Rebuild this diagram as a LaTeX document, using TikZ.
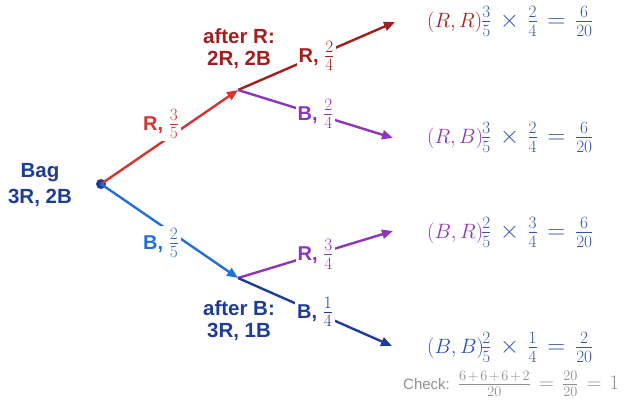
\documentclass[tikz,border=0pt]{standalone}
\usepackage{fontspec}
\setsansfont{Liberation Sans}
\usetikzlibrary{arrows.meta}
\definecolor{cR}{HTML}{D63333}
\definecolor{cDR}{HTML}{A11F1F}
\definecolor{cP}{HTML}{8E35B9}
\definecolor{cB}{HTML}{2470D6}
\definecolor{cDB}{HTML}{1F3C96}
\definecolor{cProd}{HTML}{3A55A5}
\definecolor{cBB}{HTML}{2D50B4}
\definecolor{cGray}{HTML}{8C8F96}
\tikzset{
  lbl/.style={font=\sffamily\bfseries\fontsize{20}{23}\selectfont, fill=white, inner sep=2pt},
  tree/.style={line width=2.4pt, -{Triangle[length=11pt,width=9pt]}},
  info/.style={font=\sffamily\bfseries\fontsize{20.5}{22}\selectfont, align=center},
  outc/.style={font=\fontsize{22}{26}\selectfont, anchor=base west, inner sep=0pt},
  prod/.style={font=\fontsize{24}{28}\selectfont, anchor=base west, inner sep=0pt, text=cProd},
}
\newcommand{\fr}[2]{{\fontsize{24}{28}\selectfont$\frac{#1}{#2}$}}
\newcommand{\tms}{\mkern2mu\times\mkern2mu}
\newcommand{\eqs}{\mkern2mu=\mkern2mu}
\newcommand{\plc}{\mkern2mu+\mkern2mu}
\begin{document}
\begin{tikzpicture}[x=1pt,y=-1pt]
\useasboundingbox (0,0) rectangle (626,400);
% info labels
\node[info, text=cDB, font=\sffamily\bfseries\fontsize{20.5}{26}\selectfont] (bag) at (40,185) {Bag\\3R, 2B};
\node[info, text=cDR] (infoR) at (239,49) {after R:\\2R, 2B};
\node[info, text=cDB] (infoB) at (239,321) {after B:\\3R, 1B};
% tree points
\node[circle, fill=cDB, inner sep=0pt, minimum size=10pt] (root) at (101,184) {};
\coordinate (aR) at (238,90);
\coordinate (aB) at (238,278);
\coordinate (eRR) at (395,22);
\coordinate (eRB) at (393,138);
\coordinate (eBR) at (393,231);
\coordinate (eBB) at (392,346);
% second level
\draw[tree, cDR] (aR) -- node[lbl, text=cDR] {R, \fr{2}{4}} (eRR);
\draw[tree, cP] (aR) -- node[lbl, text=cP] {B, \fr{2}{4}} (eRB);
\draw[tree, cP] (aB) -- node[lbl, text=cP] {R, \fr{3}{4}} (eBR);
\draw[tree, cDB] (aB) -- node[lbl, text=cDB] {B, \fr{1}{4}} (eBB);
% first level
\draw[tree, cR] (root.center) -- (aR);
\draw[tree, cB] (root.center) -- (aB);
\node[lbl, text=cR] (lR) at (161,124) {R, \fr{3}{5}};
\node[lbl, text=cB] (lB) at (161,243) {B, \fr{2}{5}};
% outcomes
\node[outc, text=cDR] (oRR) at (427,27.5) {$(R,R)$};
\node[prod] (pRR) at (481,27.5) {$\frac{3}{5}\tms\frac{2}{4}\eqs\frac{6}{20}$};
\node[outc, text=cP] (oRB) at (427,143.5) {$(R,B)$};
\node[prod] (pRB) at (481,143.5) {$\frac{3}{5}\tms\frac{2}{4}\eqs\frac{6}{20}$};
\node[outc, text=cP] (oBR) at (427,238.5) {$(B,R)$};
\node[prod] (pBR) at (481,238.5) {$\frac{2}{5}\tms\frac{3}{4}\eqs\frac{6}{20}$};
\node[outc, text=cBB] (oBB) at (427,353.5) {$(B,B)$};
\node[prod] (pBB) at (481,353.5) {$\frac{2}{5}\tms\frac{1}{4}\eqs\frac{2}{20}$};
% check
\node[anchor=base west, inner sep=0pt, text=cGray] (check) at (403,389)
  {{\sffamily\fontsize{15}{18}\selectfont Check:}\hspace*{8pt}{\fontsize{22}{26}\selectfont$\frac{6\plc6\plc6\plc2}{20}\eqs\frac{20}{20}\eqs1$}};
\end{tikzpicture}
\end{document}
